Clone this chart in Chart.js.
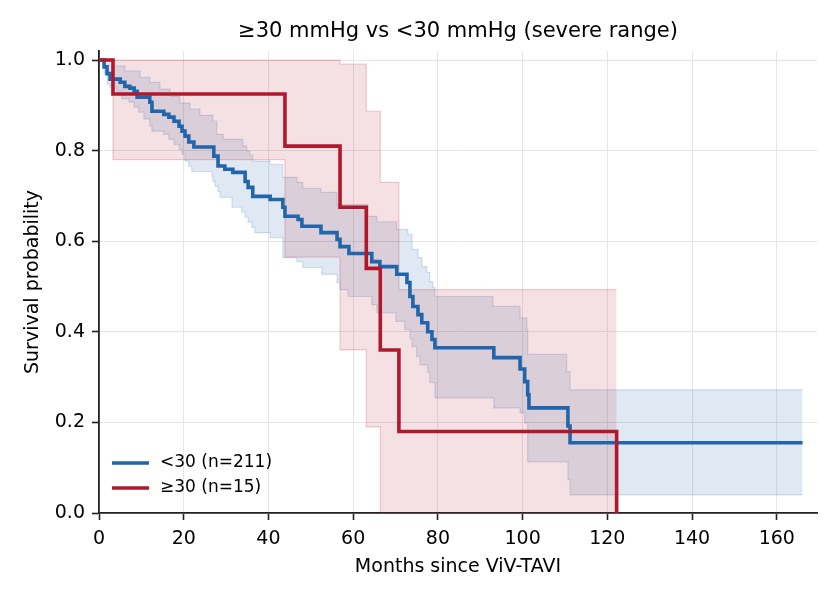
<!DOCTYPE html>
<html>
<head>
<meta charset="utf-8">
<script src="https://cdn.jsdelivr.net/npm/chart.js@4.4.0/dist/chart.umd.min.js"></script>
<style>
  html, body { margin: 0; padding: 0; background: #fff; }
  #wrap { width: 840px; height: 600px; }
</style>
</head>
<body>
<div id="wrap"><canvas id="km-chart" width="840" height="600"></canvas></div>
<script>
Chart.defaults.font.family = 'DejaVu Sans';
Chart.defaults.color = '#000';

// Kaplan-Meier steps, <30 mmHg group (months, survival)
const blueT = [0, 1.2, 1.9, 2.6, 5.0, 6.1, 7.3, 8.3, 9.0, 12.0, 12.5, 15.3, 16.5, 17.7, 18.9, 19.6, 20.3, 21.2, 22.4, 27.1,
  28.1, 29.7, 31.6, 34.5, 35.2, 36.3, 40.4, 43.4, 43.9, 47.0, 47.9, 52.4, 56.2, 56.9, 59.0, 64.4, 66.3, 70.3, 72.7, 73.4,
  74.1, 75.3, 76.2, 77.6, 78.6, 79.3, 93.2, 99.4, 100.5, 101.2, 101.5, 110.7, 111.2, 166.1];
const blueS = [1.0, 0.985, 0.97, 0.958, 0.951, 0.942, 0.938, 0.931, 0.918, 0.907, 0.887, 0.88, 0.874, 0.865, 0.854, 0.843, 0.832, 0.819, 0.808, 0.788,
  0.766, 0.759, 0.752, 0.732, 0.719, 0.699, 0.692, 0.675, 0.655, 0.648, 0.633, 0.619, 0.604, 0.588, 0.573, 0.555, 0.544, 0.527, 0.509, 0.478,
  0.456, 0.438, 0.420, 0.400, 0.383, 0.365, 0.343, 0.318, 0.290, 0.261, 0.232, 0.192, 0.155, 0.155];

// confidence band, <30 group
const blueHiT = [0, 2.6, 6.1, 9.7, 12.0, 14.4, 16.8, 19.1, 21.5, 23.8, 26.9, 27.8, 29.3, 34.0, 34.9, 35.6, 36.3, 40.4, 43.4, 46.7,
  48.1, 52.4, 56.2, 63.5, 65.6, 70.3, 72.9, 73.9, 75.3, 76.2, 77.4, 78.1, 78.8, 79.3, 93.0, 99.4, 101.0, 101.2, 110.4, 111.2, 166.1];
const blueHi = [1.0, 0.987, 0.976, 0.962, 0.951, 0.936, 0.920, 0.905, 0.892, 0.878, 0.865, 0.836, 0.825, 0.810, 0.799, 0.790, 0.777, 0.770, 0.741, 0.730,
  0.717, 0.708, 0.681, 0.655, 0.643, 0.626, 0.615, 0.582, 0.564, 0.544, 0.531, 0.511, 0.498, 0.478, 0.456, 0.431, 0.405, 0.350, 0.312, 0.272, 0.272];
const blueLoT = [0, 1.2, 1.9, 2.6, 4.2, 5.4, 7.1, 8.3, 9.4, 10.6, 12.0, 12.5, 15.3, 16.5, 17.7, 18.9, 19.6, 20.3, 21.2, 21.9,
  26.7, 26.9, 27.4, 28.1, 28.6, 31.4, 33.7, 34.5, 35.2, 36.1, 36.8, 40.4, 43.4, 46.7, 48.1, 52.6, 56.2, 56.9, 58.8, 64.4,
  65.6, 70.1, 72.2, 73.4, 73.9, 75.0, 75.8, 77.6, 78.1, 79.3, 93.2, 99.4, 100.5, 101.2, 110.7, 111.2, 166.1];
const blueLo = [1.0, 0.969, 0.947, 0.940, 0.931, 0.914, 0.907, 0.896, 0.885, 0.870, 0.854, 0.843, 0.836, 0.825, 0.814, 0.803, 0.792, 0.777, 0.765, 0.754,
  0.743, 0.732, 0.721, 0.710, 0.697, 0.675, 0.664, 0.653, 0.642, 0.631, 0.619, 0.608, 0.564, 0.555, 0.542, 0.527, 0.509, 0.493, 0.478, 0.460,
  0.442, 0.423, 0.405, 0.385, 0.367, 0.345, 0.327, 0.310, 0.288, 0.254, 0.232, 0.221, 0.199, 0.113, 0.073, 0.040, 0.040];

// >=30 mmHg group
const redT = [0, 3.3, 43.9, 56.9, 63.1, 66.4, 70.8, 122.2];
const redS = [1.0, 0.925, 0.81, 0.675, 0.54, 0.36, 0.18, 0.0];
const redHiT = [0, 56.9, 63.1, 66.4, 70.8, 122.2];
const redHi = [1.0, 0.991, 0.887, 0.73, 0.493, 0.493];
const redLoT = [0, 3.3, 43.9, 56.9, 63.1, 66.4, 122.2];
const redLo = [1.0, 0.78, 0.565, 0.36, 0.19, 0.0, 0.0];

const chartTitle = '≥30 mmHg vs <30 mmHg (severe range)';
const seriesLabels = ['<30 (n=211)', '≥30 (n=15)'];
const xTicks = [0, 20, 40, 60, 80, 100, 120, 140, 160];
const yTicks = [0, 0.2, 0.4, 0.6, 0.8, 1.0];

const BLUE = '#2166ac';
const RED = '#b2182b';

const toPoints = (ts, vs) => ts.map((t, i) => ({ x: t, y: vs[i] }));

const stepLine = (label, ts, vs, color, order) => ({
  label,
  data: toPoints(ts, vs),
  borderColor: color,
  borderWidth: 3.6,
  stepped: 'before',
  pointRadius: 0,
  fill: false,
  order
});

const bandEdge = (ts, vs, edge, fillColor, fill, order) => ({
  label: '',
  data: toPoints(ts, vs),
  borderColor: edge,
  borderWidth: 1.2,
  backgroundColor: fillColor,
  stepped: 'before',
  pointRadius: 0,
  fill,
  order
});

// title centred over the plot area, legend inside the plot, lower left
const kmDecor = {
  id: 'kmDecor',
  afterDraw(chart) {
    const { ctx, chartArea } = chart;
    ctx.save();
    ctx.fillStyle = '#000';
    ctx.textBaseline = 'middle';
    ctx.textAlign = 'center';
    ctx.font = '21px "DejaVu Sans"';
    ctx.fillText(chartTitle, (chartArea.left + chartArea.right) / 2, 32);

    ctx.textAlign = 'left';
    ctx.font = '17px "DejaVu Sans"';
    [0, 1].forEach(i => {
      const ds = chart.data.datasets[i];
      const y = chartArea.bottom - 50 + i * 25;
      ctx.strokeStyle = ds.borderColor;
      ctx.lineWidth = 3.6;
      ctx.beginPath();
      ctx.moveTo(chartArea.left + 13, y);
      ctx.lineTo(chartArea.left + 50, y);
      ctx.stroke();
      ctx.fillText(ds.label, chartArea.left + 61, y);
    });
    ctx.restore();
  }
};

const ctx = document.getElementById('km-chart').getContext('2d');
new Chart(ctx, {
  type: 'line',
  data: {
    datasets: [
      stepLine(seriesLabels[0], blueT, blueS, BLUE, 1),
      stepLine(seriesLabels[1], redT, redS, RED, 0),
      bandEdge(blueHiT, blueHi, 'rgba(33,102,172,0.18)', 'rgba(33,102,172,0.14)', '+1', 3),
      bandEdge(blueLoT, blueLo, 'rgba(33,102,172,0.18)', 'rgba(33,102,172,0.14)', false, 3),
      bandEdge(redHiT, redHi, 'rgba(178,24,43,0.2)', 'rgba(178,24,43,0.13)', '+1', 2),
      bandEdge(redLoT, redLo, 'rgba(178,24,43,0.2)', 'rgba(178,24,43,0.13)', false, 2)
    ]
  },
  options: {
    responsive: false,
    animation: false,
    layout: { padding: { left: 0, right: 23, top: 51, bottom: 0 } },
    plugins: {
      legend: { display: false },
      tooltip: { enabled: false },
      title: { display: false }
    },
    scales: {
      x: {
        type: 'linear',
        min: 0,
        max: 169.5,
        afterBuildTicks: axis => { axis.ticks = xTicks.map(v => ({ value: v })); },
        afterFit: axis => { axis.height = 87; },
        ticks: { autoSkip: false, maxRotation: 0, padding: 8, font: { size: 19 }, color: '#000' },
        grid: { color: '#e6e6e6', lineWidth: 1, tickColor: '#222', tickLength: 7, tickWidth: 1.6 },
        border: { color: '#222', width: 1.8 },
        title: { display: true, text: 'Months since ViV-TAVI', font: { size: 19 }, color: '#000', padding: { top: 0, bottom: 22 } }
      },
      y: {
        min: 0,
        max: 1.02,
        afterBuildTicks: axis => { axis.ticks = yTicks.map(v => ({ value: v })); },
        afterFit: axis => { axis.width = 99; },
        ticks: { padding: 7, font: { size: 19 }, color: '#000', callback: v => v.toFixed(1) },
        grid: { color: '#e6e6e6', lineWidth: 1, tickColor: '#222', tickLength: 7, tickWidth: 1.6 },
        border: { color: '#222', width: 1.8 },
        title: { display: true, text: 'Survival probability', font: { size: 19 }, color: '#000', padding: { top: 22, bottom: 0 } }
      }
    }
  },
  plugins: [kmDecor]
});
</script>
</body>
</html>
